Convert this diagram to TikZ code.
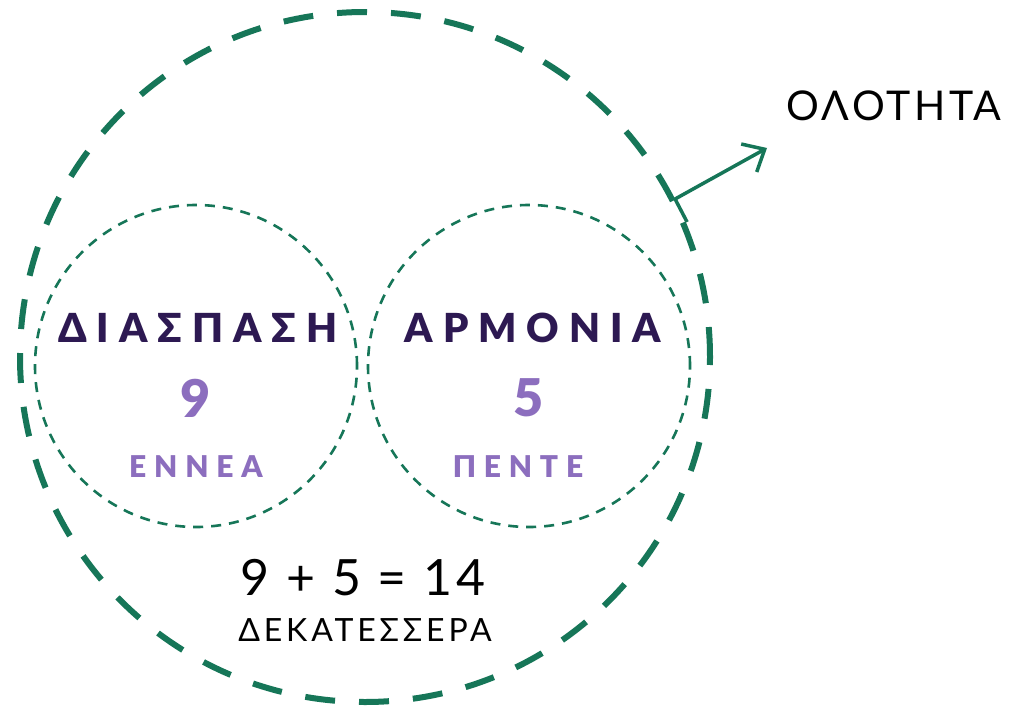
\documentclass[tikz,border=0pt]{standalone}
\usepackage{fontspec}
\setmainfont{Lato}
\newfontfamily\titlefont[LetterSpace=25]{Lato Black}
\newfontfamily\numfont{Lato Black}
\newfontfamily\subfont[LetterSpace=26]{Lato Black}
\newfontfamily\plainfont[LetterSpace=8]{Lato}
\newfontfamily\widefont[LetterSpace=12]{Lato}
\usetikzlibrary{arrows.meta,calc}
\definecolor{ringgreen}{RGB}{22,118,88}
\definecolor{darkpurple}{RGB}{45,25,82}
\definecolor{lightpurple}{RGB}{140,110,190}
\tikzset{
  outerring/.style={circle, draw=ringgreen, line width=6pt, dash pattern=on 30pt off 24pt, inner sep=0pt, minimum size=690pt},
  innerring/.style={circle, draw=ringgreen, line width=2.6pt, dash pattern=on 10pt off 8pt, inner sep=0pt, minimum size=322pt},
  title/.style={text=darkpurple, font=\titlefont\fontsize{40}{42}\selectfont, inner sep=0pt},
  number/.style={text=lightpurple, font=\numfont\fontsize{52}{54}\selectfont, inner sep=0pt},
  word/.style={text=lightpurple, font=\subfont\fontsize{30}{32}\selectfont, inner sep=0pt},
  sum/.style={text=black, font=\plainfont\fontsize{50}{52}\selectfont, inner sep=0pt},
  sumword/.style={text=black, font=\widefont\fontsize{32}{34}\selectfont, inner sep=0pt},
  label/.style={text=black, font=\plainfont\fontsize{41}{43}\selectfont, inner sep=0pt},
  link/.style={draw=ringgreen, line width=3.5pt}
}
\begin{document}
\begin{tikzpicture}[x=1pt,y=-1pt]
\useasboundingbox[fill=white] (0,0) rectangle (1017,712);
\node[outerring] (outer) at (365,357) {};
\node[innerring] (left) at (196,366) {};
\node[innerring] (right) at (529,366) {};
\node[title] (lt) at (198,328) {ΔΙΑΣΠΑΣΗ};
\node[number] (ln) at (196,398) {9};
\node[word] (lw) at (196,467) {ΕΝΝΕΑ};
\node[title] (rt) at (533,328) {ΑΡΜΟΝΙΑ};
\node[number] (rn) at (529,398) {5};
\node[word] (rw) at (518,467) {ΠΕΝΤΕ};
\node[sum] (eq) at (363,578) {9 + 5 = 14};
\node[sumword] (eqw) at (365,630) {ΔΕΚΑΤΕΣΣΕΡΑ};
\node[label] (whole) at (894,106) {ΟΛΟΤΗΤΑ};
\coordinate (tipend) at (767,148);
\coordinate (tick) at ($(outer.27)+(12,23)$);
\draw[link, line cap=butt] (tick) -- (outer.27);
\draw[link, -{Straight Barb[length=18pt,width=32pt]}] (outer.27) -- (tipend);
\end{tikzpicture}
\end{document}
